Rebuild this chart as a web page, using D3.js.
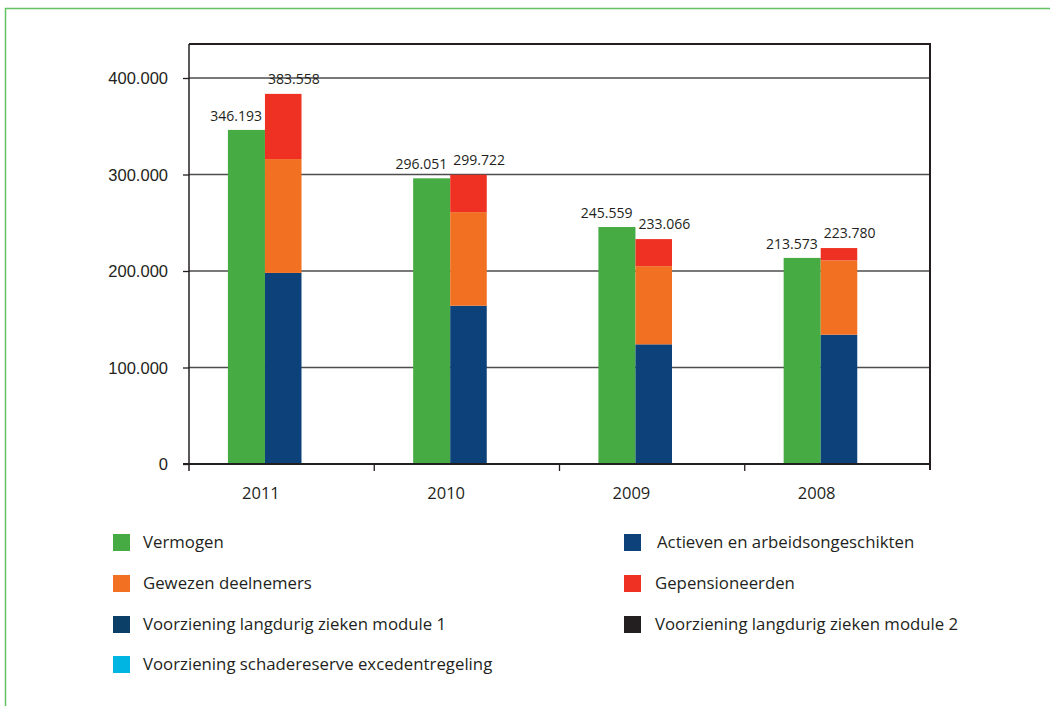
<!DOCTYPE html>
<html>
<head>
<meta charset="utf-8">
<script src="https://cdn.jsdelivr.net/npm/d3@7"></script>
<style>
    body { margin: 0; background: #fff; }
    svg { display: block; font-family: "Open Sans", sans-serif; }
    .tick text { fill: #231f20; }
</style>
</head>
<body>
<svg id="chart" width="1050" height="706"></svg>
<script>
// Data
const years = ['2011', '2010', '2009', '2008'];
const vermogen = [346193, 296051, 245559, 213573];
const actieven = [198000, 164000, 124000, 134000];
const gewezen = [118000, 97000, 81000, 77000];
const gepensioneerden = [67558, 38722, 28066, 12780];
const verplichtingen = [383558, 299722, 233066, 223780];
const yTicks = [0, 100000, 200000, 300000, 400000];

const legendItems = [
    { name: 'Vermogen', color: '#46ab43', col: 0, row: 0 },
    { name: 'Actieven en arbeidsongeschikten', color: '#0d417a', col: 1, row: 0 },
    { name: 'Gewezen deelnemers', color: '#f27022', col: 0, row: 1 },
    { name: 'Gepensioneerden', color: '#ef3124', col: 1, row: 1 },
    { name: 'Voorziening langdurig zieken module 1', color: '#0b3f68', col: 0, row: 2 },
    { name: 'Voorziening langdurig zieken module 2', color: '#231f20', col: 1, row: 2 },
    { name: 'Voorziening schadereserve excedentregeling', color: '#00b5e2', col: 0, row: 3 }
];

const nl = d3.formatLocale({ decimal: ',', thousands: '.', grouping: [3], currency: ['€', ''] });
const fmt = nl.format(',d');

const svg = d3.select('#chart');

// outer green frame
svg.append('path')
    .attr('d', 'M5.5,712 V8.5 H1060')
    .attr('fill', 'none')
    .attr('stroke', '#62c162')
    .attr('stroke-width', 1.5);

const margin = { left: 189, top: 44, right: 930, bottom: 464 };

const x = d3.scaleBand()
    .domain(years)
    .range([margin.left, margin.right])
    .padding(0);

const y = d3.scaleLinear()
    .domain([0, 400000])
    .range([margin.bottom, 78]);

const bw = x.bandwidth();
const barW = bw * 0.2;
const splitX = d => x(d) + bw * 0.41;

// gridlines
svg.append('g')
    .selectAll('line')
    .data(yTicks.filter(t => t > 0))
    .join('line')
    .attr('x1', margin.left)
    .attr('x2', margin.right)
    .attr('y1', d => y(d))
    .attr('y2', d => y(d))
    .attr('stroke', '#4d4d4d')
    .attr('stroke-width', 1.3);

// frame top + right
svg.append('path')
    .attr('d', `M${margin.left},${margin.top} H${margin.right} V${margin.bottom + 6}`)
    .attr('fill', 'none')
    .attr('stroke', '#231f20')
    .attr('stroke-width', 2);

// green bars
svg.append('g')
    .selectAll('rect')
    .data(years)
    .join('rect')
    .attr('x', d => splitX(d) - barW)
    .attr('width', barW)
    .attr('y', (d, i) => y(vermogen[i]))
    .attr('height', (d, i) => y(0) - y(vermogen[i]))
    .attr('fill', '#46ab43');

// stacked bars
const rows = years.map((yr, i) => ({
    year: yr,
    actieven: actieven[i],
    gewezen: gewezen[i],
    gepensioneerden: gepensioneerden[i]
}));
const keys = ['actieven', 'gewezen', 'gepensioneerden'];
const stackColors = { actieven: '#0d417a', gewezen: '#f27022', gepensioneerden: '#ef3124' };
const stacked = d3.stack().keys(keys)(rows);

svg.append('g')
    .selectAll('g')
    .data(stacked)
    .join('g')
    .attr('fill', s => stackColors[s.key])
    .selectAll('rect')
    .data(s => s)
    .join('rect')
    .attr('x', d => splitX(d.data.year))
    .attr('width', barW - 0.5)
    .attr('y', d => y(d[1]))
    .attr('height', d => y(d[0]) - y(d[1]));

// value labels
svg.append('g')
    .selectAll('text')
    .data(years)
    .join('text')
    .attr('x', d => splitX(d) - 3)
    .attr('y', (d, i) => y(vermogen[i]) - 9)
    .attr('text-anchor', 'end')
    .attr('font-size', 14)
    .attr('fill', '#231f20')
    .text((d, i) => fmt(vermogen[i]));

svg.append('g')
    .selectAll('text')
    .data(years)
    .join('text')
    .attr('x', d => splitX(d) + 3)
    .attr('y', (d, i) => y(verplichtingen[i]) - 10)
    .attr('text-anchor', 'start')
    .attr('font-size', 14)
    .attr('fill', '#231f20')
    .text((d, i) => fmt(verplichtingen[i]));

// y axis
const yAxis = svg.append('g')
    .attr('transform', `translate(${margin.left},0)`)
    .call(d3.axisLeft(y).tickValues(yTicks).tickSize(6).tickPadding(15).tickFormat(d => fmt(d)));
yAxis.select('.domain').remove();
yAxis.selectAll('.tick line').attr('stroke', '#231f20').attr('stroke-width', 1.3);
yAxis.selectAll('.tick text').attr('font-size', 16.5).attr('dy', '0.35em');
yAxis.append('line')
    .attr('y1', margin.top)
    .attr('y2', margin.bottom + 7)
    .attr('stroke', '#231f20')
    .attr('stroke-width', 1.5);

// x axis
svg.append('line')
    .attr('x1', margin.left - 6)
    .attr('x2', margin.right)
    .attr('y1', y(0))
    .attr('y2', y(0))
    .attr('stroke', '#231f20')
    .attr('stroke-width', 2);

svg.append('g')
    .selectAll('line')
    .data(years.slice(1))
    .join('line')
    .attr('x1', d => x(d))
    .attr('x2', d => x(d))
    .attr('y1', y(0))
    .attr('y2', y(0) + 7)
    .attr('stroke', '#231f20')
    .attr('stroke-width', 1.3);

svg.append('g')
    .selectAll('text')
    .data(years)
    .join('text')
    .attr('x', d => splitX(d) - 4)
    .attr('y', 499)
    .attr('text-anchor', 'middle')
    .attr('font-size', 16.5)
    .attr('fill', '#231f20')
    .text(d => d);

// legend
const colX = [113, 624];
const rowY = [534, 575, 616, 656];
const legend = svg.append('g')
    .selectAll('g')
    .data(legendItems)
    .join('g')
    .attr('transform', d => `translate(${colX[d.col]},${rowY[d.row]})`);

legend.append('rect')
    .attr('width', 17)
    .attr('height', 17)
    .attr('fill', d => d.color);

legend.append('text')
    .attr('x', d => d.col === 0 ? 30 : (d.row === 0 ? 33 : 31))
    .attr('y', 14)
    .attr('font-size', 16.8)
    .attr('fill', '#231f20')
    .text(d => d.name);
</script>
</body>
</html>
